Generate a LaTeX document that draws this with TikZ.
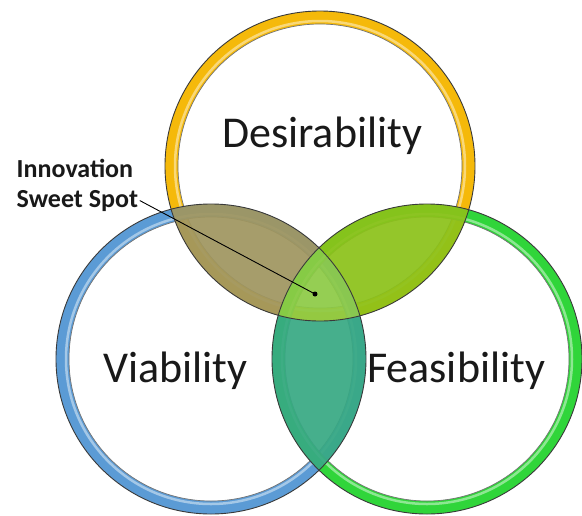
\documentclass[tikz,border=0pt]{standalone}
\usepackage{fontspec}
\setmainfont{Carlito}
\definecolor{ringY}{HTML}{F5B90A}
\definecolor{ringB}{HTML}{5B9BD5}
\definecolor{ringG}{HTML}{30D53A}
\definecolor{edgec}{HTML}{3A3A3A}
\definecolor{lensTL}{HTML}{A09660}
\definecolor{lensTR}{HTML}{8CC21A}
\definecolor{lensLR}{HTML}{38A984}
\definecolor{lensC}{HTML}{8DCB46}
\begin{document}
\begin{tikzpicture}[x=1pt,y=-1pt,
  ring/.style={line width=13pt},
  edgeline/.style={draw=edgec, line width=0.9pt},
  inedge/.style={draw=edgec!70, line width=0.7pt},
  hilite/.style={line width=2.5pt, draw=white, opacity=0.45},
  lensfill/.style={opacity=0.93},
  bigtxt/.style={font=\fontsize{44}{52}\selectfont, inner sep=0pt, text=black!90},
  smalltxt/.style={font=\fontsize{26}{30}\selectfont\bfseries, inner sep=1.5pt, text=black!90}]
\useasboundingbox[fill=white] (0,0) rectangle (582,515);
\coordinate (T) at (320,166);
\coordinate (L) at (211,359);
\coordinate (R) at (427,359);
\def\ro{155pt}\def\rmid{148.5pt}\def\ri{142pt}
% rings
\foreach \c/\col in {T/ringY, L/ringB, R/ringG}{
  \draw[ring, draw=\col] (\c) circle[radius=\rmid];
  \draw[hilite] (\c) circle[radius=145pt];
  \draw[inedge] (\c) circle[radius=\ri];
}
% lens T-L
\begin{scope}
  \clip (T) circle[radius=\ro];
  \clip (L) circle[radius=\ro];
  \fill[lensTL, lensfill, even odd rule] (-10,-10) rectangle (600,530) (R) circle[radius=\ro];
\end{scope}
% lens T-R
\begin{scope}
  \clip (T) circle[radius=\ro];
  \clip (R) circle[radius=\ro];
  \fill[lensTR, lensfill, even odd rule] (-10,-10) rectangle (600,530) (L) circle[radius=\ro];
\end{scope}
% lens L-R
\begin{scope}
  \clip (L) circle[radius=\ro];
  \clip (R) circle[radius=\ro];
  \fill[lensLR, lensfill, even odd rule] (-10,-10) rectangle (600,530) (T) circle[radius=\ro];
\end{scope}
% center
\begin{scope}
  \clip (T) circle[radius=\ro];
  \clip (L) circle[radius=\ro];
  \clip (R) circle[radius=\ro];
  \fill[lensC, lensfill] (-10,-10) rectangle (600,530);
\end{scope}
% outer outlines
\foreach \c in {T, L, R}{
  \draw[edgeline] (\c) circle[radius=\ro];
}
% labels
\node[bigtxt, anchor=base west] (des) at (222,147) {Desirability};
\node[bigtxt, anchor=base west] (via) at (103,382) {Viability};
\node[bigtxt, anchor=base west] (fea) at (367,382) {Feasibility};
\node[smalltxt, anchor=base west] (isp1) at (15,177) {Innovation};
\node[smalltxt, anchor=base west] (isp2) at (15,207) {Sweet Spot};
\node[circle, fill=black, inner sep=0pt, minimum size=5pt] (dot) at (315,294) {};
\draw[line width=0.9pt, black] (isp2.east) -- (dot.center);
\end{tikzpicture}
\end{document}
